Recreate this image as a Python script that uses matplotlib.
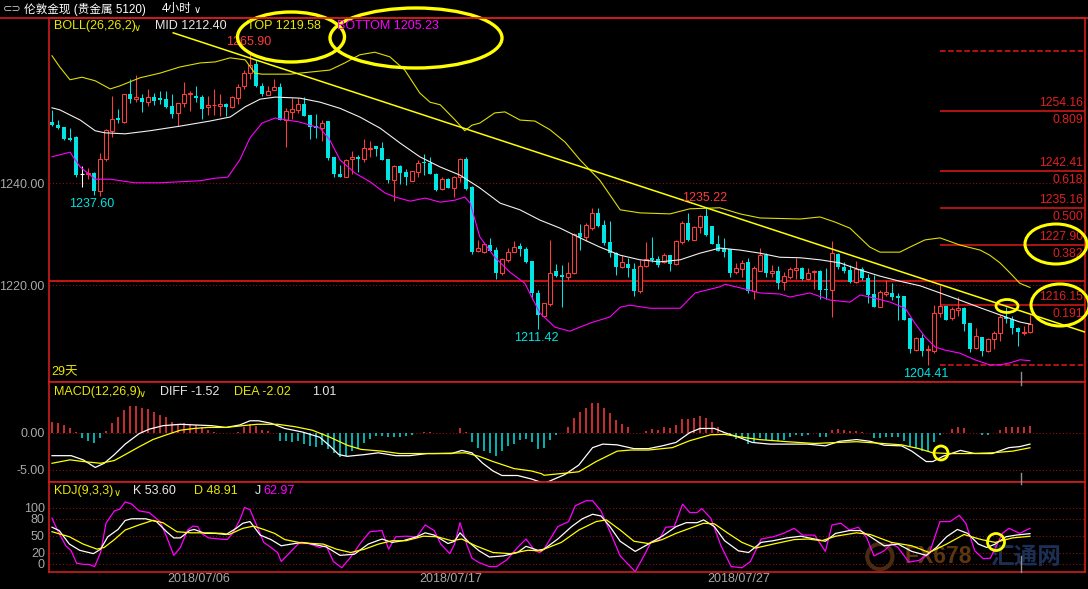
"""London spot gold, 4h candles with BOLL / MACD / KDJ panels (dark terminal style)."""
import matplotlib
matplotlib.use("Agg")
import matplotlib.pyplot as plt
import matplotlib.transforms as mtransforms
from matplotlib.patches import Ellipse
import numpy as np

# ---- candles (4h, 164 bars) ----
OPEN = [
    1252.1, 1251.4, 1251.0, 1248.8, 1249.0, 1241.8, 1241.8, 1242.0, 1238.4, 1244.7,
    1250.3, 1252.8, 1252.1, 1257.5, 1256.6, 1256.7, 1256.0, 1257.0, 1256.7, 1256.5,
    1255.2, 1253.7, 1255.7, 1257.5, 1257.1, 1256.9, 1254.9, 1255.3, 1255.1, 1255.6,
    1254.9, 1256.7, 1259.0, 1261.6, 1263.4, 1259.1, 1257.4, 1258.2, 1258.8, 1252.4,
    1254.0, 1254.4, 1255.5, 1253.4, 1251.2, 1250.9, 1252.2, 1245.1, 1241.8, 1241.3,
    1244.7, 1245.1, 1244.7, 1246.8, 1247.3, 1246.9, 1244.7, 1240.6, 1243.4, 1242.3,
    1240.5, 1242.3, 1244.2, 1243.9, 1241.9, 1238.8, 1240.8, 1239.0, 1241.3, 1244.7,
    1239.2, 1226.8, 1226.6, 1227.9, 1227.0, 1222.5, 1224.9, 1226.6, 1227.7, 1227.2,
    1224.8, 1218.4, 1214.0, 1216.3, 1222.8, 1222.0, 1221.7, 1222.5, 1230.2, 1229.5,
    1231.2, 1234.1, 1231.8, 1228.4, 1226.3, 1223.5, 1224.2, 1223.2, 1218.9, 1223.8,
    1225.3, 1225.1, 1224.6, 1225.9, 1224.2, 1228.4, 1232.2, 1228.9, 1231.4, 1233.5,
    1231.6, 1228.1, 1227.1, 1227.1, 1222.7, 1223.1, 1224.5, 1218.9, 1222.9, 1225.9,
    1222.4, 1222.9, 1220.6, 1221.7, 1223.0, 1223.3, 1221.2, 1222.7, 1222.9, 1219.3,
    1219.1, 1226.1, 1223.6, 1223.0, 1220.7, 1223.1, 1221.4, 1218.3, 1215.8, 1218.3,
    1218.4, 1217.9, 1217.9, 1213.5, 1207.3, 1209.6, 1207.3, 1207.1, 1214.6, 1215.9,
    1213.5, 1215.1, 1215.6, 1212.7, 1207.8, 1209.8, 1207.1, 1209.4, 1210.6, 1213.8,
    1213.3, 1211.6, 1210.7, 1210.9,
]
HIGH = [
    1254.4, 1252.4, 1251.0, 1250.8, 1249.2, 1243.3, 1243.0, 1242.2, 1245.9, 1250.6,
    1257.1, 1254.5, 1257.6, 1260.4, 1261.2, 1257.5, 1258.4, 1257.8, 1258.0, 1258.0,
    1257.5, 1255.8, 1259.8, 1258.0, 1259.0, 1257.3, 1257.1, 1258.4, 1257.5, 1255.8,
    1257.1, 1259.4, 1262.3, 1265.90, 1264.2, 1259.6, 1259.0, 1260.4, 1259.7, 1254.7,
    1256.7, 1256.7, 1257.0, 1253.4, 1253.6, 1252.5, 1252.2, 1245.1, 1243.6, 1244.7,
    1246.4, 1245.5, 1248.6, 1248.2, 1247.3, 1248.0, 1244.7, 1243.6, 1243.6, 1242.9,
    1242.5, 1244.6, 1245.7, 1245.1, 1242.1, 1241.3, 1241.0, 1241.5, 1245.0, 1245.1,
    1239.5, 1228.9, 1228.5, 1229.2, 1227.6, 1225.3, 1227.4, 1228.6, 1228.3, 1227.6,
    1224.8, 1219.1, 1216.6, 1228.9, 1224.2, 1224.0, 1224.6, 1230.2, 1232.0, 1232.2,
    1235.1, 1235.1, 1232.8, 1232.7, 1226.6, 1225.9, 1225.3, 1224.4, 1225.0, 1228.4,
    1229.5, 1225.8, 1226.4, 1225.9, 1228.9, 1232.7, 1234.1, 1231.6, 1233.7, 1235.22,
    1231.6, 1229.9, 1229.2, 1227.1, 1224.3, 1225.0, 1225.3, 1223.7, 1227.3, 1226.3,
    1224.0, 1223.7, 1222.7, 1223.6, 1225.3, 1223.6, 1223.3, 1223.0, 1223.0, 1223.3,
    1228.6, 1226.3, 1224.6, 1224.0, 1224.8, 1223.6, 1222.3, 1222.0, 1219.1, 1221.0,
    1220.5, 1218.4, 1217.9, 1213.5, 1209.9, 1210.4, 1208.3, 1216.1, 1220.1, 1215.9,
    1215.7, 1217.8, 1215.7, 1212.7, 1211.6, 1209.9, 1209.6, 1211.1, 1214.2, 1215.7,
    1214.0, 1211.8, 1212.0, 1214.2,
]
LOW = [
    1251.2, 1250.6, 1248.5, 1248.2, 1241.3, 1239.3, 1240.8, 1237.8, 1237.60, 1244.4,
    1249.1, 1251.8, 1251.9, 1255.7, 1256.0, 1254.0, 1255.2, 1255.4, 1255.5, 1254.7,
    1252.8, 1251.2, 1255.0, 1254.2, 1256.0, 1252.7, 1253.4, 1253.4, 1253.2, 1253.2,
    1254.7, 1255.5, 1258.4, 1260.4, 1258.8, 1257.1, 1257.3, 1258.2, 1252.4, 1247.2,
    1252.7, 1253.8, 1253.1, 1248.7, 1248.8, 1248.2, 1244.6, 1241.3, 1241.2, 1241.2,
    1241.8, 1242.3, 1244.2, 1245.1, 1245.3, 1244.6, 1240.1, 1236.6, 1239.9, 1239.7,
    1240.5, 1241.3, 1241.6, 1241.8, 1238.4, 1238.6, 1239.0, 1237.4, 1240.3, 1238.7,
    1226.1, 1226.6, 1226.4, 1226.8, 1221.2, 1222.0, 1224.6, 1226.6, 1225.7, 1224.4,
    1217.4, 1211.42, 1213.9, 1215.9, 1221.6, 1215.7, 1221.0, 1222.3, 1226.9, 1228.6,
    1230.9, 1231.5, 1227.9, 1225.6, 1222.0, 1223.3, 1221.7, 1217.9, 1218.5, 1223.6,
    1224.6, 1223.6, 1224.3, 1222.9, 1224.0, 1228.1, 1228.6, 1228.8, 1230.2, 1229.7,
    1228.1, 1226.7, 1225.5, 1221.7, 1222.3, 1221.6, 1218.4, 1217.4, 1222.9, 1221.6,
    1221.6, 1219.2, 1219.0, 1221.2, 1221.2, 1221.0, 1221.0, 1219.2, 1217.4, 1217.3,
    1213.8, 1223.1, 1222.5, 1220.4, 1220.4, 1221.0, 1216.6, 1215.7, 1215.7, 1217.9,
    1217.1, 1213.1, 1213.2, 1206.8, 1207.2, 1206.1, 1204.41, 1206.8, 1213.8, 1213.2,
    1213.2, 1214.0, 1211.1, 1207.0, 1207.6, 1206.1, 1207.0, 1207.6, 1209.1, 1212.7,
    1210.5, 1208.1, 1210.3, 1210.7,
]
CLOSE = [
    1251.4, 1250.9, 1248.6, 1248.4, 1241.7, 1241.8, 1242.1, 1238.5, 1244.7, 1250.5,
    1252.7, 1252.5, 1257.5, 1256.5, 1257.0, 1256.0, 1256.9, 1256.1, 1256.3, 1255.0,
    1253.6, 1255.7, 1257.6, 1257.8, 1256.8, 1254.6, 1255.4, 1255.4, 1255.5, 1255.0,
    1256.9, 1258.8, 1261.6, 1263.2, 1259.0, 1257.5, 1258.1, 1258.8, 1252.4, 1254.2,
    1254.5, 1255.5, 1253.2, 1251.1, 1250.8, 1251.9, 1245.0, 1241.8, 1241.3, 1244.6,
    1245.1, 1244.7, 1246.9, 1247.0, 1246.7, 1244.6, 1240.6, 1243.4, 1242.1, 1241.3,
    1242.5, 1243.9, 1243.9, 1241.9, 1238.6, 1240.8, 1239.1, 1241.3, 1244.7, 1238.8,
    1226.6, 1227.4, 1228.1, 1226.8, 1222.5, 1225.1, 1226.6, 1227.6, 1227.2, 1224.6,
    1218.4, 1214.2, 1216.5, 1222.5, 1221.8, 1221.7, 1222.5, 1230.1, 1229.5, 1231.8,
    1234.1, 1231.6, 1228.2, 1226.3, 1223.5, 1224.5, 1223.3, 1218.9, 1223.8, 1225.2,
    1225.0, 1224.0, 1225.9, 1224.2, 1228.6, 1232.3, 1228.9, 1231.4, 1233.5, 1229.9,
    1228.1, 1226.7, 1226.6, 1222.5, 1223.3, 1224.4, 1218.9, 1223.3, 1225.9, 1222.5,
    1222.9, 1220.5, 1221.8, 1223.1, 1223.3, 1221.2, 1222.5, 1222.9, 1219.1, 1219.0,
    1226.3, 1223.5, 1222.9, 1220.7, 1223.1, 1221.4, 1218.1, 1215.8, 1218.6, 1218.7,
    1217.8, 1217.6, 1213.2, 1207.6, 1209.6, 1207.2, 1207.6, 1214.5, 1215.9, 1213.2,
    1215.3, 1215.6, 1212.5, 1207.6, 1210.1, 1207.2, 1209.5, 1210.6, 1213.8, 1213.3,
    1211.6, 1210.9, 1210.9, 1212.4,
]

# ---- BOLL(26,26,2) lines, read as (bar index, price) ----
BOLL_MID = [
    (0, 1254.8), (1.3, 1254.4), (4.7, 1252.4), (7.2, 1250.3), (8.8, 1249.9), (12.2, 1249.7),
    (16.3, 1250.3), (21.3, 1251.2), (26.3, 1252.2), (29.7, 1253.0), (32.2, 1255.0), (34.7, 1256.5),
    (37.2, 1256.9), (41.3, 1256.7), (44.7, 1255.9), (48, 1254.7), (51.3, 1253.0), (54.7, 1250.8),
    (58, 1247.9), (61.3, 1245.2), (64.7, 1243.2), (68, 1241.6), (71.3, 1239.1), (74.7, 1236.1),
    (78, 1234.8), (81.3, 1232.8), (84.7, 1231.2), (88, 1229.3), (91.3, 1227.5), (94.7, 1225.9),
    (98, 1225.0), (101.3, 1224.6), (104.7, 1225.0), (108, 1226.3), (111.3, 1227.3), (114.7, 1226.9),
    (118, 1226.3), (121.3, 1225.5), (124.7, 1225.4), (128, 1225.0), (131.3, 1224.4), (134.7, 1223.0),
    (138, 1221.8), (141.3, 1220.8), (144.7, 1219.9), (148, 1218.5), (151.3, 1217.1), (154.7, 1215.6),
    (158, 1214.2), (161.3, 1212.8), (163, 1212.40),
]
BOLL_TOP = [
    (0, 1265.0), (1.3, 1262.8), (3, 1260.3), (5, 1260.8), (7.2, 1260.1), (9.7, 1258.5),
    (11.3, 1259.1), (14.7, 1260.7), (18, 1261.6), (21.3, 1262.8), (24.7, 1263.6), (27.2, 1263.8),
    (29.7, 1264.6), (32.2, 1264.2), (33.8, 1261.6), (35, 1261.4), (39.7, 1261.4), (41.3, 1261.6),
    (46.3, 1262.2), (48.8, 1263.6), (51.3, 1265.2), (53.8, 1265.7), (56.3, 1264.8), (58.8, 1262.2),
    (61.3, 1257.7), (63, 1255.9), (64.7, 1255.4), (67.2, 1252.4), (68.8, 1250.3), (70, 1251.4),
    (71.3, 1251.8), (73.8, 1253.8), (75.5, 1254.0), (78, 1252.4), (80.5, 1252.2), (83, 1250.5),
    (85.5, 1248.1), (88, 1244.6), (91.3, 1240.6), (94.7, 1234.8), (98, 1234.2), (103, 1234.0),
    (106.3, 1235.0), (111.3, 1235.2), (114.7, 1234.0), (118, 1233.2), (124.7, 1233.0), (128, 1233.4),
    (130.5, 1232.4), (133, 1231.2), (136.3, 1227.5), (138, 1226.5), (141.3, 1226.5), (143, 1227.5),
    (145.5, 1228.9), (148, 1229.3), (151.3, 1227.9), (154.7, 1226.9), (156.3, 1225.9), (158, 1224.4),
    (159.7, 1222.4), (161.3, 1220.4), (163, 1219.58),
]
BOLL_BOTTOM = [
    (0, 1245.2), (3, 1246.1), (4.7, 1243.2), (7.2, 1240.8), (9.7, 1240.8), (13.8, 1240.1),
    (18, 1240.1), (24.7, 1240.5), (27.2, 1241.0), (29.3, 1241.2), (31.3, 1244.6), (33, 1248.9),
    (35, 1251.8), (37.2, 1252.8), (41.3, 1252.0), (44.7, 1250.8), (46.3, 1248.5), (48, 1244.6),
    (50.5, 1242.0), (53, 1240.3), (55.5, 1238.1), (57.2, 1237.3), (59.7, 1236.5), (62.2, 1237.1),
    (64.7, 1236.3), (67.2, 1236.7), (68.8, 1237.3), (69.7, 1236.1), (71.3, 1229.5), (73.8, 1225.5),
    (76.3, 1222.6), (78.8, 1220.4), (81.3, 1214.6), (83.8, 1211.8), (86.3, 1211.0), (89.7, 1212.6),
    (93, 1213.8), (94.7, 1215.7), (96.3, 1216.1), (99.7, 1215.5), (104.7, 1215.5), (107.2, 1218.5),
    (111.3, 1219.7), (112.2, 1220.2), (114.7, 1219.5), (118, 1218.5), (121.3, 1218.3), (123, 1217.7),
    (126.3, 1218.5), (129.7, 1217.1), (133, 1216.7), (134.7, 1218.1), (136.3, 1217.7), (139.7, 1216.7),
    (142.2, 1215.5), (143.8, 1212.6), (145.5, 1209.9), (147.2, 1207.9), (148.8, 1207.3), (151.3, 1206.7),
    (153.8, 1205.4), (156.3, 1204.4), (158, 1204.4), (159.7, 1204.8), (161.3, 1205.4), (163, 1205.23),
]

# hand-drawn down trend line, two anchor points (bar index, price)
TREND = [(20.2, 1269.5), (172.5, 1210.7)]
# horizontal line drawn across the chart
H_LINE = 1220.9

# Fibonacci retracement between 1204.41 and 1265.90
FIB_RATIOS = [1.0, 0.809, 0.618, 0.500, 0.382, 0.191, 0.0]
FIB_PRICES = [1265.90, 1254.16, 1242.41, 1235.16, 1227.90, 1216.15, 1204.41]
FIB_START = 148

# marked extremes: (bar index, "high"/"low")
EXTREMES = [(33, "high"), (8, "low"), (81, "low"), (109, "high"), (146, "low")]

# ---- MACD(12,26,9) ----
MACD_HIST = [
    1.57, 1.43, 1.1, 0.7, 0.1, -0.7, -1.05, -1.43, -0.7, 0.3,
    1.43, 2.14, 3.1, 3.67, 3.67, 3.38, 3.24, 2.9, 2.52, 2.14,
    1.57, 1.29, 1.33, 1.24, 1.1, 0.81, 0.38, 0.1, 0.05, 0.0,
    0.05, 0.14, 0.76, 1.19, 0.95, 0.38, 0.24, 0.05, -1.05, -1.05,
    -1.19, -1.05, -1.52, -1.76, -1.86, -1.67, -2.24, -2.71, -3.29, -3.1,
    -2.48, -2.0, -1.38, -0.81, -0.43, -0.43, -0.48, -0.48, -0.48, -0.43,
    -0.33, 0.0, 0.14, 0.14, 0.05, 0.0, 0.05, 0.05, 0.62, 0.1,
    -1.29, -2.0, -2.48, -2.71, -3.1, -2.48, -1.76, -1.52, -0.9, -0.81,
    -1.29, -2.2, -2.0, -0.9, -0.24, 0.0, 0.76, 2.05, 2.86, 3.48,
    4.14, 4.14, 3.38, 2.67, 1.71, 1.24, 0.76, 0.0, 0.05, 0.29,
    0.48, 0.38, 0.76, 0.62, 1.1, 1.9, 1.9, 2.05, 2.29, 2.05,
    1.57, 0.86, 0.1, -0.33, -0.81, -0.57, -1.52, -1.29, -0.71, -0.9,
    -1.05, -1.05, -0.9, -0.57, -0.33, -0.43, -0.33, 0.0, -0.48, -0.57,
    0.38, 0.48, 0.38, 0.24, 0.24, 0.14, 0.0, -0.71, -0.71, -0.57,
    -0.57, -0.57, -1.05, -1.76, -2.0, -2.48, -2.48, -1.29, -0.24, 0.0,
    0.48, 0.76, 0.62, 0.05, 0.0, -0.33, -0.24, 0.0, 0.38, 0.86,
    0.86, 0.76, 0.76, 1.01,
]
MACD_DIFF = [
    (0, -3.1), (3.2, -3.1), (5.2, -3.67), (7.2, -4.71), (8.7, -4.14), (10.4, -2.95), (12.2, -1.52),
    (14.5, -0.1), (16.2, 0.52), (18.5, 1.0), (21.4, 1.19), (23.7, 1.1), (26.6, 1.0), (29, 0.76),
    (31.3, 1.1), (33, 1.67), (34.4, 1.67), (36.5, 1.33), (38.8, 0.62), (41.7, 0.14), (44.6, -0.57),
    (46.3, -1.76), (47.8, -2.95), (49.2, -3.19), (52.1, -2.95), (54.4, -2.71), (57.3, -3.1),
    (59.6, -3.1), (62.5, -2.81), (66.6, -2.81), (68.3, -2.38), (70, -2.71), (71.8, -4.14),
    (73.5, -5.19), (75, -5.81), (77.6, -5.81), (79.9, -6.29), (81.6, -6.76), (82, -6.9),
    (85.5, -5.67), (87.8, -4.38), (90.1, -2.0), (91.8, -1.52), (94.2, -1.62), (97, -2.14),
    (99.4, -2.14), (101.7, -1.76), (104, -1.29), (106.3, 0.05), (108, 0.62), (110.4, 0.62),
    (112.1, 0.05), (114.4, -0.57), (116.7, -1.29), (119.6, -1.52), (122.5, -1.52), (125.9, -1.52),
    (128.9, -1.76), (131.2, -1.14), (134.1, -0.9), (136.4, -1.14), (138.7, -1.67), (141.6, -1.76),
    (143.3, -2.48), (145.7, -3.9), (146.8, -3.9), (148.5, -3.19), (151.4, -2.38), (153.8, -2.81),
    (156.7, -2.81), (159.5, -2.0), (161.3, -1.86), (163, -1.52),
]
MACD_DEA = [
    (0, -4.14), (3, -3.67), (5.2, -3.9), (8.1, -4.14), (10.4, -3.76), (12.2, -2.95), (14.5, -1.9),
    (16.8, -0.9), (19.1, -0.24), (21.4, 0.38), (23.7, 0.62), (26, 0.76), (29, 0.76), (31.8, 1.0),
    (34.2, 1.19), (37.6, 1.19), (40.5, 0.86), (43.4, 0.38), (46.3, -0.57), (49.2, -1.67),
    (51.5, -2.24), (55, -2.48), (57.9, -2.81), (63.7, -2.81), (68.9, -2.71), (71.2, -3.19),
    (73.5, -3.9), (77, -4.86), (79.9, -5.19), (81.6, -5.57), (82, -5.78), (87.8, -5.3),
    (90.7, -3.9), (94.2, -2.48), (96.5, -2.33), (99.4, -2.33), (103.4, -2.0), (106.3, -1.05),
    (109.8, -0.24), (112.1, -0.19), (115, -0.57), (117.9, -0.9), (122.5, -1.19), (127.1, -1.43),
    (131.2, -1.29), (134.1, -1.19), (137.5, -1.38), (141.6, -1.62), (144.5, -2.14), (146.8, -2.71),
    (149.7, -2.81), (153.2, -2.81), (156.7, -2.71), (160.1, -2.48), (163, -2.02),
]

# ---- KDJ(9,3,3) ----
KDJ_K = [
    (0, 65), (1.2, 59), (2.9, 35), (4.6, 24), (6.9, 18), (8.1, 26), (9.3, 48), (11, 61), (12.2, 77),
    (13.3, 80), (15.6, 80), (17.4, 75), (19.1, 57), (20.3, 46), (21.4, 46), (22.9, 59), (23.7, 61),
    (25.5, 54), (27.2, 54), (29, 52), (30.7, 63), (31.8, 72), (33, 75), (34.7, 51), (36.5, 43),
    (38.2, 32), (39.9, 35), (41.7, 38), (43.4, 35), (45.7, 30), (48, 15), (50.4, 17), (52.7, 35),
    (55, 44), (56.7, 38), (58.5, 41), (60.8, 48), (62.2, 55), (63.7, 51), (66, 36), (67.1, 40),
    (68, 55), (69.5, 38), (71.2, 23), (72.9, 12), (75.2, 14), (77.6, 20), (79, 31), (81, 24),
    (82, 26), (84.3, 44), (86.6, 66), (88.4, 80), (90.1, 88), (91.5, 85), (93, 66), (94.7, 40),
    (97.2, 22), (99.4, 35), (101.7, 49), (104, 66), (105.7, 73), (107.5, 73), (108.6, 78),
    (110.4, 66), (112.1, 41), (114.4, 23), (116.1, 20), (118.2, 38), (120.2, 41), (122.5, 46),
    (124.8, 49), (127.1, 44), (128.9, 40), (130.6, 54), (132.9, 59), (134.7, 59), (136.4, 48),
    (138.7, 32), (141, 35), (143.3, 22), (145.7, 15), (147.4, 29), (149.1, 48), (150.9, 61),
    (152.6, 54), (154.4, 35), (155.8, 29), (157.2, 35), (159, 48), (160.7, 51), (163, 53.60),
]
KDJ_D = [
    (0, 57), (2.9, 48), (5.2, 35), (7.5, 26), (8.7, 29), (10.4, 43), (12.2, 60), (14.5, 69),
    (16.8, 77), (18.5, 73), (20.8, 57), (23.2, 55), (26.1, 55), (28.4, 54), (29.5, 52), (31.8, 63),
    (33.6, 67), (35.3, 61), (37.1, 54), (38.8, 43), (41.1, 38), (43.4, 36), (45.2, 35), (47.4, 26),
    (49.8, 20), (52.1, 26), (54.4, 35), (56.7, 41), (59, 41), (61.9, 49), (64.2, 48), (66.6, 41),
    (68.3, 44), (70.6, 32), (73.5, 20), (76.4, 18), (79.3, 24), (81.6, 23), (82, 26), (84.9, 38),
    (87.8, 60), (90.7, 75), (92.4, 78), (94.7, 60), (97, 40), (99.4, 36), (101.7, 43), (104, 54),
    (106.3, 63), (108.6, 72), (110.4, 71), (112.7, 54), (115, 38), (117.3, 28), (120.2, 35),
    (123.7, 43), (126, 44), (128.3, 41), (130.6, 49), (134.1, 55), (136.4, 52), (139.9, 38),
    (143.3, 32), (146.2, 20), (149.1, 35), (152, 52), (154.9, 43), (157.2, 38), (160.1, 46),
    (163, 48.91),
]
KDJ_J = [
    (0, 81), (0.9, 60), (2.3, 32), (3.2, 23), (4.1, 1), (5.2, -1), (6.1, -1), (7.1, -5), (8.1, 20),
    (9, 72), (10.4, 94), (11.3, 97), (12.2, 110), (13.3, 106), (14.5, 94), (16.2, 91), (18, 75),
    (19.1, 48), (20.3, 15), (21.4, 29), (22.6, 60), (23.5, 67), (24.3, 66), (24.9, 54), (26.1, 46),
    (27.8, 44), (29.2, 43), (30.1, 54), (31.3, 78), (32.1, 100), (33, 96), (34.2, 66), (35.3, 38),
    (36.5, 29), (37.6, 20), (38.2, 4), (39.4, 17), (41.1, 36), (42.8, 36), (44.6, 29), (45.7, 32),
    (46.9, 4), (48.3, -7), (49.8, 12), (51.5, 38), (53, 57), (55, 59), (56.1, 26), (57.3, 48),
    (59, 49), (60.8, 48), (62.2, 69), (63.7, 59), (64.8, 35), (66.3, 18), (67.1, 35), (68, 73),
    (69.2, 32), (70, 10), (71.2, 2), (72.9, -5), (74.1, -5), (75.8, 7), (77.6, 29), (79, 44),
    (80.5, 23), (81.3, 20), (82, 26), (84.3, 66), (86.1, 75), (87.2, 103), (89, 112), (90.1, 112),
    (91.5, 94), (93, 57), (94.7, 14), (97.2, -14), (98.8, 17), (99.9, 40), (101.1, 41), (102.3, 65),
    (103.7, 66), (105.1, 106), (106.3, 91), (107.5, 91), (108.3, 98), (109.8, 81), (111.5, 32),
    (113.2, -5), (115, -7), (116.4, 4), (118.2, 44), (120.2, 48), (121.9, 54), (123.7, 63),
    (125.1, 51), (127.1, 51), (128.9, 22), (130, 69), (131.5, 72), (132.9, 60), (134.4, 65),
    (135.8, 46), (137, 14), (138.7, 23), (139.9, 36), (141, 29), (142.8, 3), (144.5, 6), (146.2, 18),
    (148, 75), (149.7, 75), (151.2, 86), (152.3, 72), (153.8, 23), (155.2, 9), (156.4, 10),
    (158.4, 54), (159.5, 63), (161.3, 54), (163, 62.97),
]

DATE_IDX = [24.5, 66.5, 114.5]
DATE_LABELS = ["2018/07/06", "2018/07/17", "2018/07/27"]

RED = "#ff3b3b"
BORDER = "#d01c1c"
GRID = "#8a1010"
CYAN = "#00e4e4"
YELLOW = "#e8e800"
MAGENTA = "#ff00ff"
GRAY = "#a8a8a8"

W, H = 1088, 589


def rect(x0, y0, x1, y1):
    return [x0 / W, 1 - y1 / H, (x1 - x0) / W, (y1 - y0) / H]


def style_panel(ax, ylim, ticks, labels):
    ax.set_facecolor("black")
    ax.set_xlim(-0.5, 172.17)
    ax.set_ylim(*ylim)
    for s in ax.spines.values():
        s.set_color(BORDER)
        s.set_linewidth(1.2)
    ax.set_xticks([])
    ax.set_yticks(ticks)
    ax.set_yticklabels(labels)
    ax.tick_params(axis="y", length=0, pad=3, labelcolor=GRAY, labelsize=9)
    for t in ticks:
        ax.axhline(t, color=GRID, linestyle=(0, (1, 2)), linewidth=0.8, zorder=0)


def xy(pairs):
    a = np.array(pairs, dtype=float)
    return a[:, 0], a[:, 1]


def main():
    plt.rcParams["font.family"] = ["Liberation Sans", "Noto Sans CJK SC", "DejaVu Sans"]
    fig = plt.figure(figsize=(W / 100, H / 100), dpi=100, facecolor="black")

    ax_p = fig.add_axes(rect(49, 18, 1085, 382))
    ax_m = fig.add_axes(rect(49, 382, 1085, 481.5))
    ax_k = fig.add_axes(rect(49, 481.5, 1085, 572))

    style_panel(ax_p, (1201.04, 1272.41), [1220, 1240], ["1220.00", "1240.00"])
    style_panel(ax_m, (-6.63, 6.97), [-5, 0], ["-5.00", "0.00"])
    style_panel(ax_k, (-14.6, 146.2), [0, 20, 50, 80, 100], ["0", "20", "50", "80", "100"])

    # ---- candles ----
    idx = np.arange(len(CLOSE))
    o, h, l, c = (np.array(v) for v in (OPEN, HIGH, LOW, CLOSE))
    up, dn, flat = c > o, c < o, c == o
    top, bot = np.maximum(o, c), np.minimum(o, c)
    body = np.maximum(top - bot, 0.12)
    ax_p.vlines(idx[up], top[up], h[up], color=RED, lw=0.75, zorder=2)
    ax_p.vlines(idx[up], l[up], bot[up], color=RED, lw=0.75, zorder=2)
    ax_p.vlines(idx[dn], l[dn], h[dn], color=CYAN, lw=0.75, zorder=2)
    ax_p.vlines(idx[flat], l[flat], h[flat], color="white", lw=0.75, zorder=2)
    ax_p.bar(idx[up], body[up], bottom=bot[up], width=0.55, facecolor="black",
             edgecolor=RED, linewidth=0.75, zorder=2)
    ax_p.bar(idx[dn], body[dn], bottom=bot[dn], width=0.7, color=CYAN, linewidth=0, zorder=2)
    ax_p.hlines(c[flat], idx[flat] - 0.38, idx[flat] + 0.38, color="white", lw=0.8, zorder=2)

    # ---- BOLL + trend line + levels ----
    ax_p.plot(*xy(BOLL_MID), color="#f0f0f0", lw=0.8, zorder=3)
    ax_p.plot(*xy(BOLL_TOP), color="#dede00", lw=0.8, zorder=3)
    ax_p.plot(*xy(BOLL_BOTTOM), color=MAGENTA, lw=0.8, zorder=3)
    ax_p.plot(*xy(TREND), color="#ffff00", lw=1.1, zorder=3)
    ax_p.axhline(H_LINE, color="#ff1a1a", lw=1.1, zorder=1)

    for r, p in zip(FIB_RATIOS, FIB_PRICES):
        ls = "--" if r in (0.0, 1.0) else "-"
        ax_p.hlines(p, FIB_START, 172.17, color="#e01818", lw=1.1, linestyle=ls, zorder=1)
        if r in (0.0, 1.0):
            continue
        ax_p.annotate(f"{p:.2f}", (171.9, p), xytext=(0, 5.6), textcoords="offset points",
                      ha="right", va="center", color="#e02020", fontsize=8.8)
        ax_p.annotate(f"{r:.3f}", (171.9, p), xytext=(0, -6.4), textcoords="offset points",
                      ha="right", va="center", color="#e02020", fontsize=8.8)

    for i, kind in EXTREMES:
        if kind == "high":
            ax_p.annotate(f"{HIGH[i]:.2f}", (i, HIGH[i]), xytext=(-1.2, 6.8),
                          textcoords="offset points", ha="center", va="center",
                          color=RED, fontsize=9)
        else:
            dx = -5.8 if i == 8 else -1.4
            ax_p.annotate(f"{LOW[i]:.2f}", (i, LOW[i]), xytext=(dx, -6.4),
                          textcoords="offset points", ha="center", va="center",
                          color=CYAN, fontsize=9)

    # ---- MACD ----
    hist = np.array(MACD_HIST)
    hidx = np.arange(len(hist))
    pos, neg = hist > 0, hist < 0
    ax_m.vlines(hidx[pos], 0, hist[pos], color=RED, lw=1.1, zorder=2)
    ax_m.vlines(hidx[neg], hist[neg], 0, color=CYAN, lw=1.1, zorder=2)
    ax_m.plot(*xy(MACD_DIFF), color="white", lw=0.9, zorder=3)
    ax_m.plot(*xy(MACD_DEA), color="#ffff00", lw=0.9, zorder=3)

    # ---- KDJ (watermark underneath the lines) ----
    ax_k.text(0.826, 0.17, "FX678", transform=ax_k.transAxes, fontsize=16.5, fontweight="bold",
              color="#5e3612", va="center", ha="left", zorder=0)
    ax_k.text(0.909, 0.17, "汇通网", transform=ax_k.transAxes, fontsize=17, fontweight="bold",
              color="#1c2f55", va="center", ha="left", zorder=0,
              family=["Noto Sans CJK SC", "DejaVu Sans"])
    ax_k.scatter([0.802], [0.17], s=330, transform=ax_k.transAxes, facecolors="none",
                 edgecolors="#4a2a10", linewidths=3, zorder=0)
    ax_k.plot(*xy(KDJ_J), color=MAGENTA, lw=0.9, zorder=3)
    ax_k.plot(*xy(KDJ_K), color="white", lw=0.9, zorder=3)
    ax_k.plot(*xy(KDJ_D), color="#ffff00", lw=0.9, zorder=3)

    trans = mtransforms.blended_transform_factory(ax_k.transData, ax_k.transAxes)
    for d, lab in zip(DATE_IDX, DATE_LABELS):
        ax_k.text(d, -0.08, lab, transform=trans, ha="center", va="center",
                  color=GRAY, fontsize=9, clip_on=False)

    # ---- header and indicator captions (pixel positions) ----
    def ftext(x, y, s, color, size=9, **kw):
        fig.text(x / W, 1 - y / H, s, color=color, fontsize=size, ha="left", va="center", **kw)

    ftext(3, 9, "⊂⊃", "#c8c8c8", 8, family=["DejaVu Sans"])
    ftext(24, 9, "伦敦金现 (贵金属 5120)", "white", 8.4)
    ftext(162, 9, "4小时", "white", 8.4)
    ftext(194, 10, "∨", "white", 7, family=["DejaVu Sans"])

    ftext(54, 26, "BOLL(26,26,2)", YELLOW)
    ftext(134, 28, "∨", YELLOW, 7, family=["DejaVu Sans"])
    ftext(155, 26, f"MID {BOLL_MID[-1][1]:.2f}", "#e8e8e8")
    ftext(247, 26, f"TOP {BOLL_TOP[-1][1]:.2f}", YELLOW)
    ftext(337, 26, f"BOTTOM {BOLL_BOTTOM[-1][1]:.2f}", MAGENTA)
    ftext(51, 372, "29天", YELLOW)

    ftext(54, 392, "MACD(12,26,9)", YELLOW)
    ftext(139, 394, "∨", YELLOW, 7, family=["DejaVu Sans"])
    ftext(160, 392, f"DIFF {MACD_DIFF[-1][1]:.2f}", "#e8e8e8")
    ftext(234, 392, f"DEA {MACD_DEA[-1][1]:.2f}", YELLOW)
    ftext(312, 392, f"{MACD_HIST[-1]:.2f}", "#e8e8e8")

    ftext(54, 491, "KDJ(9,3,3)", YELLOW)
    ftext(114, 493, "∨", YELLOW, 7, family=["DejaVu Sans"])
    ftext(133, 491, f"K {KDJ_K[-1][1]:.2f}", "#e8e8e8")
    ftext(194, 491, f"D {KDJ_D[-1][1]:.2f}", YELLOW)
    ftext(255, 491, "J", "#e8e8e8")
    ftext(263, 491, f"{KDJ_J[-1][1]:.2f}", MAGENTA)

    # ---- overlay: header rule, cursor marks, yellow hand-drawn ellipses ----
    ov = fig.add_axes([0, 0, 1, 1])
    ov.set_xlim(0, W)
    ov.set_ylim(H, 0)
    ov.axis("off")
    ov.patch.set_alpha(0)
    ov.plot([0, W], [18, 18], color=BORDER, lw=1.2)
    for y0, y1 in [(372, 382), (382, 385), (473, 481), (481, 484), (556, 572)]:
        ov.plot([1021, 1021], [y0, y1], color="#909090", lw=1.0)
    for cx, cy, w, hh, lw in [(291, 37, 107, 50, 2.4), (416, 38, 172, 60, 2.4),
                              (1056, 244, 62, 40, 2.2), (1060, 305, 58, 42, 2.2),
                              (1007, 306, 22, 13, 2.0), (941, 453, 14, 14, 2.0),
                              (996, 542, 17, 17, 2.0)]:
        ov.add_patch(Ellipse((cx, cy), w, hh, fill=False, edgecolor="#ffff00", lw=lw))

    fig.savefig("out.png", dpi=100, facecolor="black")


if __name__ == "__main__":
    main()
